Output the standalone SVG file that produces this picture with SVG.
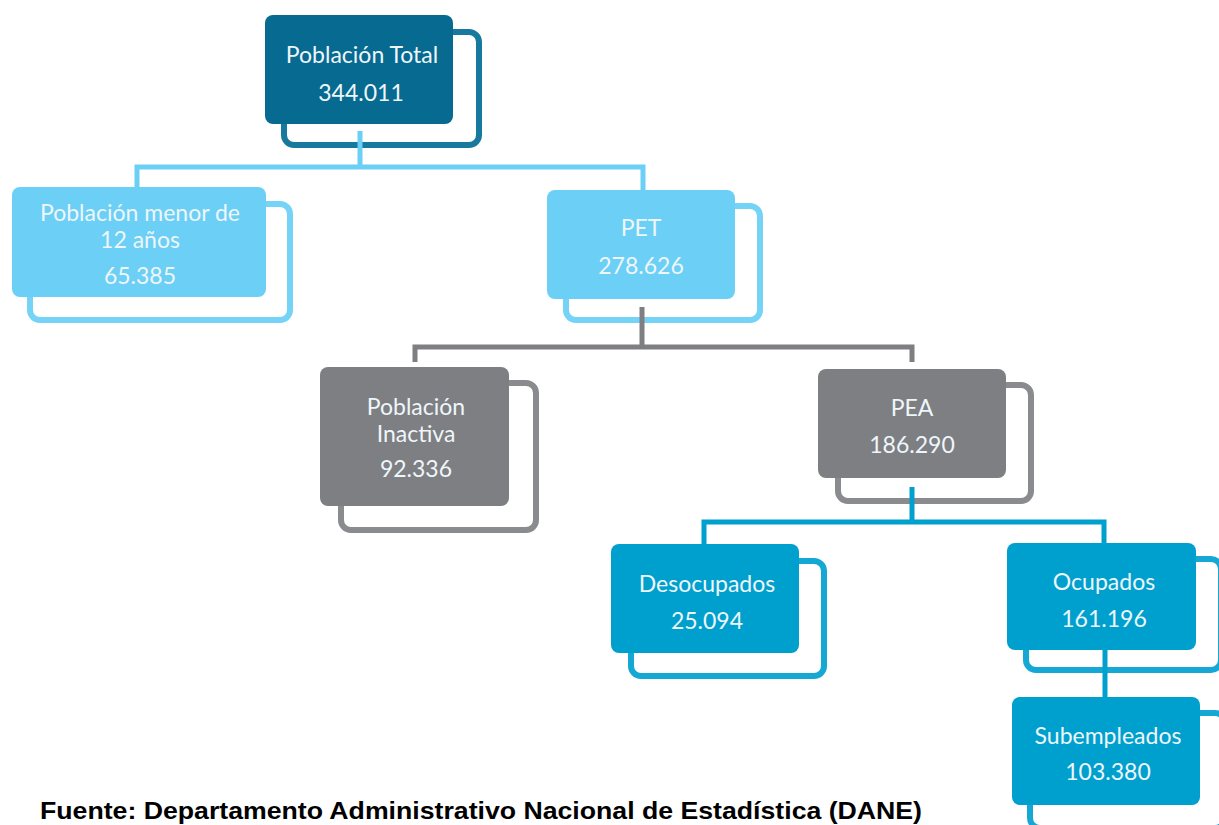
<svg xmlns="http://www.w3.org/2000/svg" width="1219" height="825" viewBox="0 0 1219 825">
<style>
.box{stroke:none}
.ol{fill:none;stroke-width:6}
.t{font-family:Lato,"Open Sans","Liberation Sans",sans-serif;font-size:23px;fill:#EEF6FA;text-anchor:middle}
.c{fill:none;stroke-width:5;stroke-linejoin:miter}
.dark .box{fill:#076A90}.dark .ol{stroke:#17799E}
.light .box{fill:#6BCFF6}.light .ol{stroke:#74D3F7}
.gray .box{fill:#7E7F83}.gray .ol{stroke:#8A8B8F}
.blue .box{fill:#00A0CE}.blue .ol{stroke:#16A8D4}
</style>
<rect width="1219" height="825" fill="#FFFFFF"/>
<g id="poblacion-total" class="dark">
<rect class="ol" x="284" y="32" width="195" height="113" rx="10"/>
<rect class="box" x="265" y="15" width="188" height="109" rx="8"/>
<text class="t" x="362" y="63">Población Total</text>
<text class="t" x="361" y="101">344.011</text>
</g>
<g id="menor-12" class="light">
<rect class="ol" x="30" y="204" width="260" height="116" rx="10"/>
<rect class="box" x="12" y="187" width="254" height="110" rx="8"/>
<text class="t" x="140" y="221">Población menor de</text>
<text class="t" x="140" y="248">12 años</text>
<text class="t" x="140" y="284">65.385</text>
</g>
<g id="pet" class="light">
<rect class="ol" x="566" y="206" width="194" height="114" rx="10"/>
<rect class="box" x="547" y="190" width="188" height="109" rx="8"/>
<text class="t" x="641" y="236">PET</text>
<text class="t" x="641" y="274">278.626</text>
</g>
<g id="inactiva" class="gray">
<rect class="ol" x="341" y="383" width="195" height="147" rx="10"/>
<rect class="box" x="320" y="367" width="189" height="139" rx="8"/>
<text class="t" x="416" y="415">Población</text>
<text class="t" x="416" y="442">Inactiva</text>
<text class="t" x="416" y="477">92.336</text>
</g>
<g id="pea" class="gray">
<rect class="ol" x="838" y="385" width="193" height="116" rx="10"/>
<rect class="box" x="818" y="369" width="188" height="109" rx="8"/>
<text class="t" x="912" y="416">PEA</text>
<text class="t" x="912" y="453">186.290</text>
</g>
<g id="desocupados" class="blue">
<rect class="ol" x="631" y="561" width="193" height="115" rx="10"/>
<rect class="box" x="611" y="544" width="188" height="109" rx="8"/>
<text class="t" x="707" y="592">Desocupados</text>
<text class="t" x="707" y="629">25.094</text>
</g>
<g id="ocupados" class="blue">
<rect class="ol" x="1026" y="559" width="195" height="111" rx="10"/>
<rect class="box" x="1007" y="543" width="189" height="107" rx="8"/>
<text class="t" x="1104" y="590">Ocupados</text>
<text class="t" x="1104" y="627">161.196</text>
</g>
<g id="subempleados" class="blue">
<rect class="ol" x="1030" y="713" width="195" height="115" rx="10"/>
<rect class="box" x="1012" y="697" width="188" height="108" rx="8"/>
<text class="t" x="1108" y="744">Subempleados</text>
<text class="t" x="1108" y="780">103.380</text>
</g>
<g id="connectors">
<path class="c" stroke="#6BCFF6" d="M360 131 V167 M137 188 V167 H643 V190"/>
<path class="c" stroke="#7E7F83" d="M642 307 V347 M415 362 V347 H912 V362"/>
<path class="c" stroke="#00A0CE" d="M912 487 V522 M704 545 V522 H1104 V543 M1105 650 V697"/>
</g>
<text id="fuente" x="40" y="819" font-family="'Liberation Sans',Arial,sans-serif" font-weight="bold" font-size="24" textLength="882" lengthAdjust="spacingAndGlyphs" fill="#000000">Fuente: Departamento Administrativo Nacional de Estadística (DANE)</text>
</svg>
